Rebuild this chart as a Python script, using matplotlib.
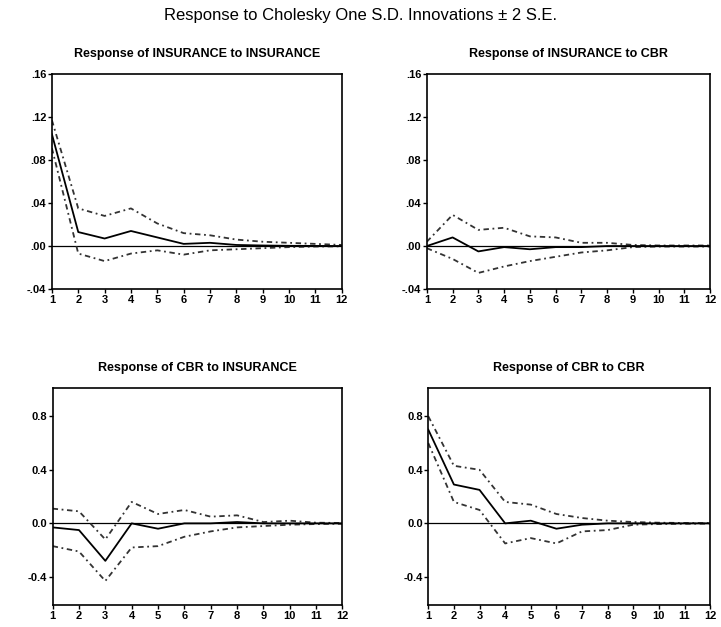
import matplotlib
matplotlib.use("Agg")
import matplotlib.pyplot as plt
from matplotlib.ticker import FixedLocator, FixedFormatter

plt.rcParams['font.family'] = ['Liberation Sans', 'DejaVu Sans']

periods = list(range(1, 13))

# Response of INSURANCE to INSURANCE
ins_ins = [0.104, 0.013, 0.007, 0.014, 0.008, 0.002, 0.003, 0.001, 0.0005, 0.0002, 0.0001, 0.0]
ins_ins_hi = [0.117, 0.035, 0.028, 0.035, 0.021, 0.012, 0.010, 0.006, 0.004, 0.003, 0.002, 0.001]
ins_ins_lo = [0.091, -0.007, -0.014, -0.007, -0.004, -0.008, -0.004, -0.003, -0.002, -0.001, -0.0005, -0.0003]

# Response of INSURANCE to CBR
ins_cbr = [0.0, 0.008, -0.005, -0.001, -0.003, -0.001, -0.001, 0.0, 0.0, 0.0, 0.0, 0.0]
ins_cbr_hi = [0.004, 0.029, 0.015, 0.017, 0.009, 0.008, 0.003, 0.003, 0.001, 0.0005, 0.0005, 0.0005]
ins_cbr_lo = [-0.002, -0.012, -0.025, -0.019, -0.014, -0.010, -0.006, -0.004, -0.001, -0.0005, -0.0005, -0.0005]

# Response of CBR to INSURANCE
cbr_ins = [-0.03, -0.05, -0.28, 0.0, -0.04, 0.0, 0.0, 0.01, 0.0, 0.0, 0.0, 0.0]
cbr_ins_hi = [0.11, 0.09, -0.12, 0.16, 0.07, 0.10, 0.05, 0.06, 0.01, 0.02, 0.005, 0.003]
cbr_ins_lo = [-0.17, -0.21, -0.43, -0.18, -0.17, -0.10, -0.06, -0.03, -0.02, -0.01, -0.005, -0.003]

# Response of CBR to CBR
cbr_cbr = [0.70, 0.29, 0.25, 0.0, 0.02, -0.04, -0.01, 0.0, 0.0, 0.0, 0.0, 0.0]
cbr_cbr_hi = [0.80, 0.43, 0.40, 0.16, 0.14, 0.07, 0.04, 0.02, 0.01, 0.005, 0.003, 0.002]
cbr_cbr_lo = [0.60, 0.16, 0.10, -0.15, -0.11, -0.15, -0.06, -0.05, -0.01, -0.005, -0.003, -0.002]

small_ticks = [-0.04, 0.0, 0.04, 0.08, 0.12, 0.16]
small_labels = ["-.04", ".00", ".04", ".08", ".12", ".16"]
big_ticks = [-0.4, 0.0, 0.4, 0.8]
big_labels = ["-0.4", "0.0", "0.4", "0.8"]

panels = [
    ("Response of INSURANCE to INSURANCE", ins_ins, ins_ins_hi, ins_ins_lo,
     [0.072, 0.539, 0.402, 0.343], (-0.04, 0.16), small_ticks, small_labels),
    ("Response of INSURANCE to CBR", ins_cbr, ins_cbr_hi, ins_cbr_lo,
     [0.592, 0.539, 0.393, 0.343], (-0.04, 0.16), small_ticks, small_labels),
    ("Response of CBR to INSURANCE", cbr_ins, cbr_ins_hi, cbr_ins_lo,
     [0.073, 0.035, 0.402, 0.346], (-0.61, 1.01), big_ticks, big_labels),
    ("Response of CBR to CBR", cbr_cbr, cbr_cbr_hi, cbr_cbr_lo,
     [0.594, 0.035, 0.391, 0.346], (-0.61, 1.01), big_ticks, big_labels),
]

fig = plt.figure(figsize=(7.21, 6.27), dpi=100)
fig.text(0.5, 0.975, "Response to Cholesky One S.D. Innovations \u00b1 2 S.E.",
         ha='center', va='center', fontsize=12)

for title, resp, hi, lo, pos, ylim, yt, yl in panels:
    ax = fig.add_axes(pos)
    ax.axhline(0, color='black', linewidth=0.9)
    ax.plot(periods, hi, color='#333333', linewidth=1.3, linestyle=(0, (3, 2, 1, 2)))
    ax.plot(periods, lo, color='#333333', linewidth=1.3, linestyle=(0, (3, 2, 1, 2)))
    ax.plot(periods, resp, color='black', linewidth=1.3)
    ax.set_xlim(1, 12)
    ax.set_ylim(*ylim)
    ax.xaxis.set_major_locator(FixedLocator(periods))
    ax.yaxis.set_major_locator(FixedLocator(yt))
    ax.yaxis.set_major_formatter(FixedFormatter(yl))
    ax.tick_params(direction='out', length=3, width=1, labelsize=8, pad=1)
    for lab in ax.get_xticklabels() + ax.get_yticklabels():
        lab.set_fontweight('bold')
    for sp in ax.spines.values():
        sp.set_linewidth(1.2)
    ax.set_title(title, fontsize=9, fontweight='bold', pad=12)

fig.savefig("out.png", dpi=100)
